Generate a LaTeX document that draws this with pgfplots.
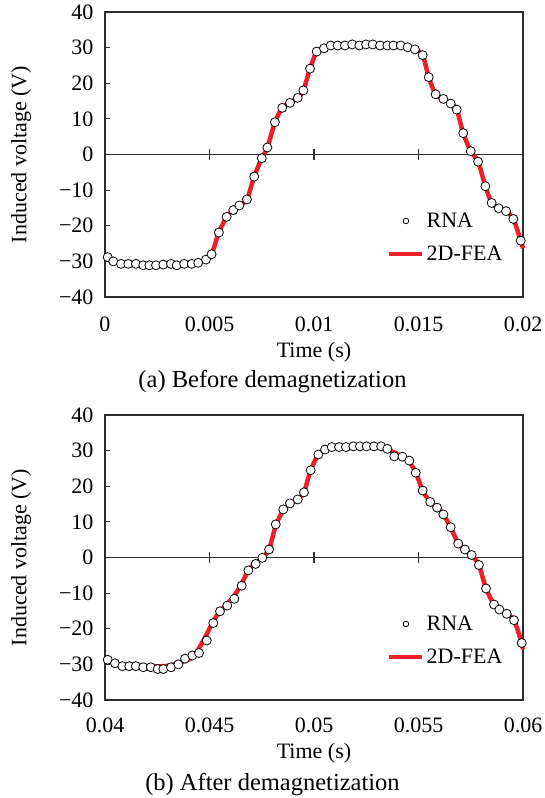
\documentclass[border=0pt]{standalone}
\usepackage{fontspec}
\setmainfont{Liberation Serif}
\usepackage{pgfplots}
\pgfplotsset{compat=1.18}
\definecolor{fea}{RGB}{236,32,40}
\definecolor{frame}{RGB}{45,45,45}

\pgfplotstableread{
t V
0.000129 -28.8
0.000397 -30.0
0.000766 -30.7
0.001115 -30.7
0.001483 -30.7
0.00183 -31.1
0.00212 -31.1
0.00244 -31.1
0.00279 -30.9
0.00316 -30.7
0.00343 -31.1
0.00379 -30.7
0.00415 -30.7
0.00446 -30.4
0.00483 -29.5
0.00510 -28.0
0.00545 -21.9
0.00582 -17.5
0.00614 -15.6
0.00643 -14.3
0.00679 -12.6
0.00714 -6.2
0.00750 -1.05
0.00777 1.97
0.00813 9.07
0.00848 13.1
0.00885 14.5
0.00922 15.9
0.00949 18.0
0.00981 24.1
0.01013 28.9
0.01048 29.8
0.0108 30.6
0.01113 30.6
0.01148 30.6
0.01183 30.9
0.01217 30.6
0.01249 30.9
0.01281 30.9
0.01316 30.6
0.01351 30.6
0.0138 30.6
0.01415 30.6
0.01448 30.1
0.01483 29.5
0.0152 27.9
0.01549 21.7
0.01582 16.9
0.01619 15.6
0.01654 14.3
0.01683 12.6
0.01714 6.0
0.0175 0.93
0.01785 -2.0
0.0182 -8.9
0.0185 -13.6
0.01884 -15.1
0.01919 -15.9
0.01954 -18.1
0.01989 -24.2
}\rnaA

\pgfplotstableread{
t V
0 -28.2
0.000129 -29.0
0.000397 -30.0
0.000766 -30.6
0.0012 -30.8
0.0020 -31.0
0.0030 -31.0
0.0038 -30.8
0.00446 -30.4
0.00483 -29.5
0.00510 -28.0
0.00545 -21.9
0.00582 -17.5
0.00614 -15.6
0.00643 -14.3
0.00679 -12.6
0.00714 -6.2
0.00750 -1.05
0.00777 1.97
0.00813 9.07
0.00848 13.1
0.00885 14.5
0.00922 15.9
0.00949 18.0
0.00981 24.1
0.01013 28.9
0.01048 29.8
0.0110 30.6
0.0120 30.8
0.0130 30.8
0.0138 30.6
0.01448 30.1
0.01483 29.5
0.0152 27.9
0.01549 21.7
0.01582 16.9
0.01619 15.6
0.01654 14.3
0.01683 12.6
0.01714 6.0
0.0175 0.93
0.01785 -2.0
0.0182 -8.9
0.0185 -13.6
0.01884 -15.1
0.01919 -15.9
0.01954 -18.1
0.01989 -24.2
0.0200 -26.3
}\feaA

\pgfplotstableread{
t V
0.04013 -28.7
0.04048 -29.7
0.04083 -30.5
0.04116 -30.5
0.04147 -30.5
0.04183 -30.8
0.04219 -30.8
0.04252 -31.3
0.04279 -31.3
0.04316 -30.8
0.04351 -30.0
0.04383 -28.4
0.04418 -27.5
0.0445 -26.8
0.04487 -23.3
0.04518 -18.4
0.0455 -15.1
0.04585 -13.5
0.04619 -11.6
0.04654 -7.9
0.04686 -3.6
0.04721 -1.8
0.04753 -0.1
0.04785 2.25
0.04817 9.3
0.04853 13.5
0.04885 15.2
0.04922 16.3
0.04952 18.3
0.04984 24.5
0.05021 28.9
0.05053 30.3
0.05085 31.0
0.0512 31.0
0.05153 31.0
0.05188 31.2
0.0522 31.2
0.05252 31.2
0.05287 31.2
0.05321 31.2
0.05351 30.5
0.05384 28.4
0.05423 28.3
0.05456 27.2
0.05487 23.8
0.0552 18.8
0.05556 15.6
0.05589 14.0
0.05619 12.1
0.05654 8.5
0.0569 3.9
0.05722 2.25
0.05754 0.7
0.05789 -2.1
0.05823 -8.7
0.05861 -13.2
0.05887 -14.6
0.05922 -15.8
0.05957 -17.6
0.05994 -24.0
}\rnaB

\pgfplotstableread{
t V
0.0400 -28.3
0.04013 -28.7
0.04048 -29.7
0.0408 -30.2
0.0420 -30.6
0.0430 -30.4
0.04351 -29.6
0.04415 -28.2
0.04446 -25.8
0.04478 -22.5
0.04518 -17.9
0.0455 -15.1
0.0459 -12.7
0.04622 -10.4
0.04654 -7.3
0.04686 -3.6
0.04721 -1.6
0.04753 -0.1
0.04785 2.25
0.04817 9.0
0.04853 13.3
0.04885 15.0
0.04922 16.3
0.04952 18.3
0.04984 24.5
0.05021 28.9
0.05053 30.3
0.0510 31.0
0.0520 31.2
0.0532 31.0
0.05351 30.3
0.05384 29.5
0.05423 28.3
0.05456 26.8
0.05487 23.8
0.0552 18.8
0.05556 15.6
0.05589 14.0
0.05619 12.1
0.05654 8.5
0.0569 3.9
0.05722 2.25
0.05754 0.7
0.05789 -2.1
0.05823 -8.7
0.05861 -13.2
0.05887 -14.6
0.05922 -15.8
0.05957 -17.6
0.05994 -24.0
0.0600 -25.8
}\feaB

\pgfplotsset{
  zeroline/.style={
    width=418pt, height=285pt, scale only axis,
    ymin=-40, ymax=40,
    axis x line=middle, axis y line=none,
    axis line style={-, frame, line width=1.1pt},
    tick align=center, major tick length=11pt,
    xtick style={frame, line width=1.1pt},
    xticklabels={}, ytick=\empty, scaled x ticks=false,
  },
  panel/.style={
    width=418pt, height=285pt, scale only axis,
    ymin=-40, ymax=40,
    scaled x ticks=false, scaled y ticks=false,
    ytick={-40,-30,-20,-10,0,10,20,30,40},
    yticklabels={−40,−30,−20,−10,0,10,20,30,40},
    ytick pos=left, tick align=inside, major tick length=5pt,
    ytick style={frame, line width=1.1pt},
    xtick style={draw=none},
    xtick pos=bottom,
    axis line style={frame, line width=1.3pt},
    yticklabel style={xshift=-8pt},
    ylabel={Induced voltage (V)},
    ylabel style={at={(axis description cs:0,0.5)}, anchor=center, yshift=84pt},
    xlabel={Time (s)},
    clip=false,
    legend style={draw=none, fill=none, inner sep=0pt, row sep=13pt,
      at={(axis description cs:0.6746,0.2088)}, anchor=west,
      font=\fontsize{22}{26}\selectfont},
    legend cell align=left,
  },
  rnamark/.style={only marks, mark=*, mark size=4.5pt,
    mark options={draw=black, fill=white, line width=0.8pt}},
  fealine/.style={fea, line width=4.5pt, smooth, tension=0.45, mark=none},
}

\begin{document}
\begin{tikzpicture}[font=\fontsize{22}{26}\selectfont]
\path[use as bounding box] (0pt,0pt) rectangle (545pt,-798pt);

% ---------- panel (a) ----------
\begin{axis}[zeroline, xmin=0, xmax=0.02,
  xtick={0,0.005,0.01,0.015,0.02},
  at={(105pt,-297pt)}, anchor=south west]
\end{axis}
\begin{axis}[panel, xmin=0, xmax=0.02,
  xtick={0,0.005,0.01,0.015,0.02},
  xticklabels={0,0.005,0.01,0.015,0.02},
  xticklabel style={anchor=base, yshift=-34pt},
  xlabel style={at={(axis description cs:0.5,0)}, anchor=center, yshift=-55pt},
  title={(a) Before demagnetization},
  title style={at={(axis description cs:0.4007,0)}, anchor=center, yshift=-91pt,
    font=\fontsize{24.5}{28}\selectfont},
  at={(105pt,-297pt)}, anchor=south west]
\addlegendimage{legend image code/.code={\draw[black, line width=0.8pt, fill=white] (16.5pt,0pt) circle (2.8pt);}}
\addlegendentry{RNA}
\addlegendimage{legend image code/.code={\draw[fea, line width=4.5pt] (0pt,0pt) -- (33pt,0pt);}}
\addlegendentry{2D-FEA}
\addplot[fealine, forget plot] table[x=t, y=V] {\feaA};
\addplot[rnamark, forget plot] table[x=t, y=V] {\rnaA};
\end{axis}

% ---------- panel (b) ----------
\begin{axis}[zeroline, xmin=0.04, xmax=0.06,
  xtick={0.04,0.045,0.05,0.055,0.06},
  at={(105pt,-700pt)}, anchor=south west]
\end{axis}
\begin{axis}[panel, xmin=0.04, xmax=0.06,
  xtick={0.04,0.045,0.05,0.055,0.06},
  xticklabels={0.04,0.045,0.05,0.055,0.06},
  xticklabel style={anchor=base, yshift=-32pt},
  xlabel style={at={(axis description cs:0.5,0)}, anchor=center, yshift=-53pt},
  title={(b) After demagnetization},
  title style={at={(axis description cs:0.4007,0)}, anchor=center, yshift=-91pt,
    font=\fontsize{24.5}{28}\selectfont},
  at={(105pt,-700pt)}, anchor=south west]
\addlegendimage{legend image code/.code={\draw[black, line width=0.8pt, fill=white] (16.5pt,0pt) circle (2.8pt);}}
\addlegendentry{RNA}
\addlegendimage{legend image code/.code={\draw[fea, line width=4.5pt] (0pt,0pt) -- (33pt,0pt);}}
\addlegendentry{2D-FEA}
\addplot[fealine, forget plot] table[x=t, y=V] {\feaB};
\addplot[rnamark, forget plot] table[x=t, y=V] {\rnaB};
\end{axis}
\end{tikzpicture}
\end{document}
